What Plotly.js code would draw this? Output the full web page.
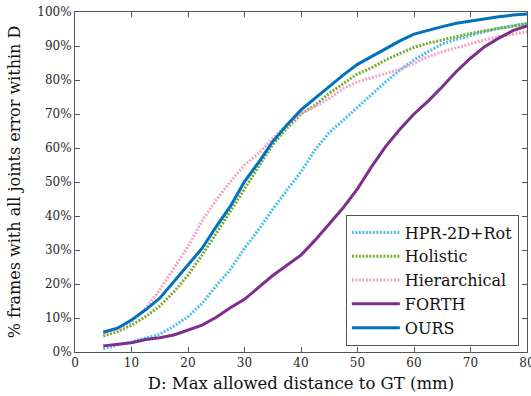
<!DOCTYPE html>
<html>
<head>
<meta charset="utf-8">
<script src="https://cdn.plot.ly/plotly-3.0.1.min.js"></script>
<style>html,body{margin:0;padding:0;background:#fff;}#chart{width:531px;height:396px;}</style>
</head>
<body>
<div id="chart"></div>
<script>
const D = [5,7.5,10,12.5,15,17.5,20,22.5,25,27.5,30,32.5,35,37.5,40,42.5,45,47.5,50,52.5,55,57.5,60,62.5,65,67.5,70,72.5,75,77.5,80];
const hpr = [0.9,2.1,3.0,4.2,5.2,7.6,10.4,14.3,19.5,24.3,30.5,36.0,42.0,47.6,53.0,59.5,64.5,68.2,72.0,75.6,79.5,82.9,85.9,88.3,90.6,92.0,93.2,94.2,95.2,96.0,96.7];
const holistic = [4.7,6.0,7.9,10.4,13.5,17.7,22.6,28.5,34.9,41.3,48.0,54.5,61.0,65.8,70.0,72.6,76.1,79.0,81.8,83.6,85.9,87.8,89.6,90.8,91.8,92.9,93.7,94.5,95.2,95.9,96.5];
const hierarchical = [5.3,6.7,8.9,12.8,18.3,24.6,31.0,38.6,44.7,50.1,55.0,58.4,62.8,66.8,70.2,72.2,74.6,77.5,79.5,80.7,82.0,83.1,84.9,86.9,88.3,89.5,90.6,91.8,92.7,93.5,94.2];
const forth = [1.8,2.3,2.7,3.7,4.2,5.0,6.5,7.9,10.2,13.0,15.5,19.0,22.5,25.5,28.5,32.9,37.8,42.5,48.0,54.5,60.5,65.5,70.0,73.8,78.0,82.5,86.4,89.8,92.3,94.5,95.9];
const ours = [5.8,7.0,9.4,12.4,15.8,20.7,25.3,30.5,36.9,42.9,50.1,55.8,61.9,66.8,71.2,74.6,78.0,81.5,84.6,86.9,89.3,91.5,93.5,94.7,95.7,96.7,97.4,97.9,98.6,99.1,99.4];
const names = ['HPR-2D+Rot','Holistic','Hierarchical','FORTH','OURS'];

const traces = [
  {x:D, y:hpr, name:names[0], mode:'lines', line:{color:'#4DBEEE', width:3, dash:'2px,1.5px'}},
  {x:D, y:holistic, name:names[1], mode:'lines', line:{color:'#77AC30', width:3, dash:'2px,1.5px'}},
  {x:D, y:hierarchical, name:names[2], mode:'lines', line:{color:'#F5A3C8', width:3, dash:'2px,1.5px'}},
  {x:D, y:forth, name:names[3], mode:'lines', line:{color:'#7E2F8E', width:3}},
  {x:D, y:ours, name:names[4], mode:'lines', line:{color:'#0072BD', width:3}}
];
const fnt = 'DejaVu Serif';
const layout = {
  width:531, height:396,
  margin:{l:75, r:4, t:12, b:44},
  paper_bgcolor:'#fff', plot_bgcolor:'#fff',
  font:{family:fnt, color:'#262626'},
  showlegend:true,
  legend:{x:0.982, y:0.019, xanchor:'right', yanchor:'bottom', bgcolor:'#fff', bordercolor:'#555', borderwidth:1,
          font:{family:fnt, size:16, color:'#111'}, itemwidth:48, tracegroupgap:0, title:{text:''}},
  xaxis:{range:[0,80], dtick:10, tick0:0, ticks:'inside', ticklen:5, tickcolor:'#555', showline:true, linecolor:'#555', linewidth:1,
         mirror:'ticks', showgrid:false, zeroline:false, ticklabeloverflow:'allow', tickfont:{size:12, family:fnt, color:'#262626'},
         title:{text:'D: Max allowed distance to GT (mm)', font:{size:16.5, family:fnt, color:'#111'}, standoff:8}},
  yaxis:{range:[0,100], dtick:10, tick0:0, ticksuffix:'%', ticks:'inside', ticklen:5, tickcolor:'#555', showline:true, linecolor:'#555', linewidth:1,
         mirror:'ticks', showgrid:false, zeroline:false, ticklabeloverflow:'allow', tickfont:{size:12, family:fnt, color:'#262626'},
         title:{text:'% frames with all joints error within D', font:{size:16, family:fnt, color:'#111'}, standoff:12}}
};
Plotly.newPlot('chart', traces, layout, {displayModeBar:false, staticPlot:true});
</script>
</body>
</html>
